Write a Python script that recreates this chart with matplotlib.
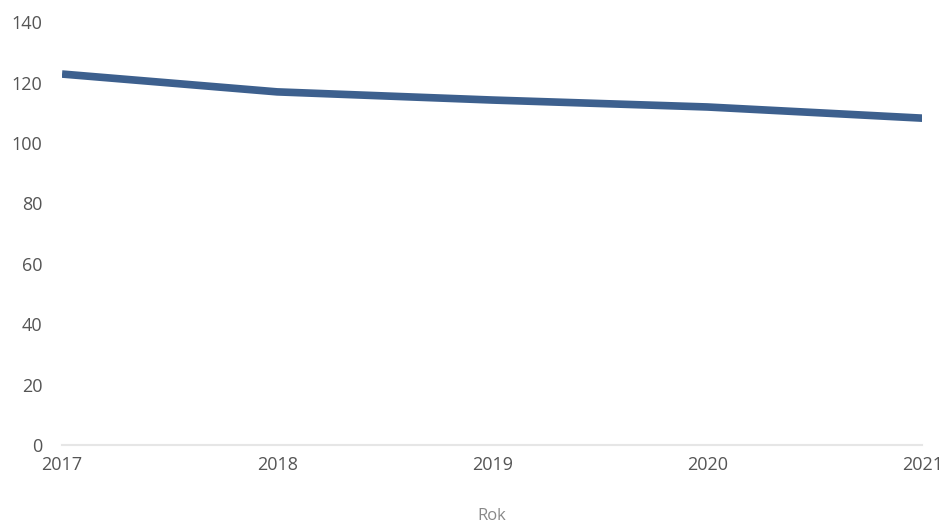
import matplotlib
matplotlib.use("Agg")
import matplotlib.pyplot as plt

# values
years = [2017, 2018, 2019, 2020, 2021]
values = [122.8, 116.9, 114.2, 111.9, 108.2]
y_ticks = [0, 20, 40, 60, 80, 100, 120, 140]

plt.rcParams['font.family'] = ['Open Sans', 'DejaVu Sans']

fig = plt.figure(figsize=(9.47, 5.25), dpi=100)
ax = fig.add_axes([0.0655, 0.152, 0.9085, 0.806])

ax.plot(years, values, color='#3d608e', linewidth=5.5, solid_capstyle='butt')

ax.set_xlim(2017, 2021)
ax.set_ylim(0, 140)
ax.set_xticks(years)
ax.set_yticks(y_ticks)
ax.tick_params(axis='both', length=0, labelsize=13, labelcolor='#555555')
ax.tick_params(axis='x', pad=8)
ax.tick_params(axis='y', pad=14)

for s in ['top', 'right', 'left']:
    ax.spines[s].set_visible(False)
ax.spines['bottom'].set_color('#e6e6e6')
ax.spines['bottom'].set_linewidth(1.5)

ax.set_xlabel("Rok", fontsize=12, color='#888888', labelpad=24)

fig.savefig("out.png", dpi=100)
